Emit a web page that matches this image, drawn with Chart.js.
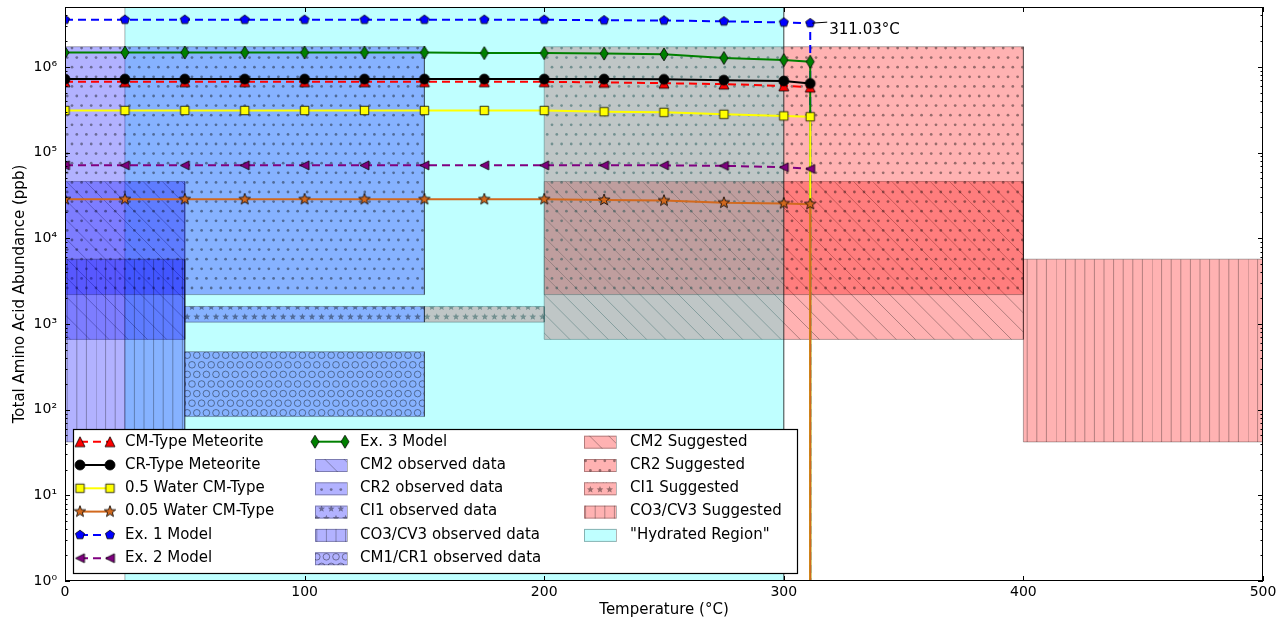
<!DOCTYPE html>
<html>
<head>
<meta charset="utf-8">
<script src="https://cdn.jsdelivr.net/npm/chart.js@4.4.1/dist/chart.umd.min.js"></script>
<style>
  html, body { margin: 0; padding: 0; background: #fff; }
  #chart { display: block; }
</style>
</head>
<body>
<canvas id="chart" width="1278" height="621"></canvas>
<script>
// temperatures (°C) at which the models were evaluated
const temps = [0, 25, 50, 75, 100, 125, 150, 175, 200, 225, 250, 275, 300, 311.03];

// total amino acid abundance (ppb)
const cmType   = [6.7e5, 6.7e5, 6.7e5, 6.7e5, 6.7e5, 6.7e5, 6.7e5, 6.7e5, 6.7e5, 6.6e5, 6.45e5, 6.3e5, 6.0e5, 5.8e5];
const crType   = [7.2e5, 7.2e5, 7.2e5, 7.2e5, 7.2e5, 7.2e5, 7.2e5, 7.2e5, 7.2e5, 7.2e5, 7.15e5, 7.0e5, 6.85e5, 6.4e5];
const water05  = [3.1e5, 3.1e5, 3.1e5, 3.1e5, 3.1e5, 3.1e5, 3.1e5, 3.1e5, 3.1e5, 3.0e5, 2.95e5, 2.8e5, 2.68e5, 2.62e5];
const water005 = [2.85e4, 2.85e4, 2.85e4, 2.85e4, 2.85e4, 2.85e4, 2.85e4, 2.85e4, 2.85e4, 2.8e4, 2.75e4, 2.6e4, 2.55e4, 2.5e4];
const ex1      = [3.55e6, 3.55e6, 3.55e6, 3.55e6, 3.55e6, 3.55e6, 3.55e6, 3.55e6, 3.55e6, 3.5e6, 3.48e6, 3.4e6, 3.3e6, 3.24e6];
const ex2      = [7.1e4, 7.1e4, 7.1e4, 7.1e4, 7.1e4, 7.1e4, 7.1e4, 7.1e4, 7.1e4, 7.1e4, 7.1e4, 7.0e4, 6.75e4, 6.45e4];
const ex3      = [1.47e6, 1.47e6, 1.47e6, 1.47e6, 1.47e6, 1.47e6, 1.47e6, 1.45e6, 1.45e6, 1.43e6, 1.4e6, 1.27e6, 1.2e6, 1.15e6];
// some runs collapse right after the last temperature
const dropFloor = 0.01;

// shaded ranges: name, temperature span, abundance span
const boxNames = ['CM2 observed data', 'CR2 observed data', 'CI1 observed data', 'CO3/CV3 observed data', 'CM1/CR1 observed data',
                  'CM2 Suggested', 'CR2 Suggested', 'CI1 Suggested', 'CO3/CV3 Suggested', '"Hydrated Region"'];
const boxTempLow   = [0, 0, 50, 0, 50, 200, 200, 150, 400, 25];
const boxTempHigh  = [50, 150, 150, 50, 150, 400, 400, 200, 500, 300];
const boxAbundLow  = [660, 2.2e3, 1.05e3, 42, 83, 660, 2.2e3, 1.05e3, 42, 1];
const boxAbundHigh = [4.6e4, 1.72e6, 1.6e3, 5.7e3, 475, 4.6e4, 1.72e6, 1.6e3, 5.7e3, 5e6];

const xTickValues = [0, 100, 200, 300, 400, 500];
const yTickValues = [1, 10, 100, 1000, 1e4, 1e5, 1e6];
const yTickLabels = ['10⁰', '10¹', '10²', '10³', '10⁴', '10⁵', '10⁶'];
const peakLabel = '311.03°C';

const FONT = "'DejaVu Sans', sans-serif";

// ---- markers ----
function makeMarker(shape, fill, w, h) {
  h = h || w;
  const c = document.createElement('canvas');
  c.width = Math.ceil(w) + 4; c.height = Math.ceil(h) + 4;
  const g = c.getContext('2d');
  const mx = c.width / 2, my = c.height / 2, rx = w / 2, ry = h / 2;
  g.beginPath();
  if (shape === 'circle') {
    g.arc(mx, my, rx, 0, Math.PI * 2);
  } else if (shape === 'square') {
    g.rect(mx - rx, my - ry, w, h);
  } else if (shape === 'triUp') {
    g.moveTo(mx, my - ry); g.lineTo(mx + rx, my + ry); g.lineTo(mx - rx, my + ry);
  } else if (shape === 'triLeft') {
    g.moveTo(mx - rx, my); g.lineTo(mx + rx, my - ry); g.lineTo(mx + rx, my + ry);
  } else if (shape === 'diamond') {
    g.moveTo(mx, my - ry); g.lineTo(mx + rx, my); g.lineTo(mx, my + ry); g.lineTo(mx - rx, my);
  } else if (shape === 'pentagon') {
    for (let i = 0; i < 5; i++) {
      const a = -Math.PI / 2 + i * 2 * Math.PI / 5;
      g.lineTo(mx + rx * Math.cos(a), my + rx * Math.sin(a));
    }
  } else if (shape === 'star') {
    for (let i = 0; i < 10; i++) {
      const a = -Math.PI / 2 + i * Math.PI / 5;
      const r = i % 2 ? rx * 0.42 : rx;
      g.lineTo(mx + r * Math.cos(a), my + r * Math.sin(a));
    }
  }
  g.closePath();
  g.fillStyle = fill; g.fill();
  g.lineWidth = 0.8; g.strokeStyle = '#000'; g.stroke();
  return c;
}

// ---- hatch patterns (tile of 96px = 10 hatch cells) ----
const HATCH = 'rgba(0,0,0,0.3)';
const HATCH_DARK = 'rgba(0,0,0,0.4)';
function makePattern(face, hatch) {
  if (!hatch) return face;
  const T = 96, s = 9.6;
  const c = document.createElement('canvas');
  c.width = c.height = T;
  const g = c.getContext('2d');
  g.fillStyle = face; g.fillRect(0, 0, T, T);
  g.strokeStyle = HATCH; g.fillStyle = HATCH_DARK; g.lineWidth = 1;
  const shapesAt = (fn) => {
    for (let r = -1; r <= 11; r++) {
      const off = (r & 1) ? s / 2 : 0;
      for (let k = -1; k <= 11; k++) fn(k * s + off, r * s);
    }
  };
  if (hatch === '\\') {
    g.beginPath();
    for (let c0 = -T; c0 <= T; c0 += 2 * s) { g.moveTo(c0, 0); g.lineTo(c0 + T, T); }
    g.stroke();
  } else if (hatch === '|') {
    g.beginPath();
    for (let k = 0; k < 10; k++) { g.moveTo(k * s, 0); g.lineTo(k * s, T); }
    g.stroke();
  } else if (hatch === '.') {
    shapesAt((x, y) => { g.beginPath(); g.arc(x, y, 1.4, 0, Math.PI * 2); g.fill(); });
  } else if (hatch === 'O') {
    g.strokeStyle = HATCH_DARK;
    shapesAt((x, y) => { g.beginPath(); g.arc(x, y, 3.3, 0, Math.PI * 2); g.stroke(); });
  } else if (hatch === '*') {
    shapesAt((x, y) => {
      g.beginPath();
      for (let i = 0; i < 10; i++) {
        const a = -Math.PI / 2 + i * Math.PI / 5;
        const r = i % 2 ? 1.6 : 3.6;
        g.lineTo(x + r * Math.cos(a), y + r * Math.sin(a));
      }
      g.closePath(); g.fill();
    });
  }
  return g.createPattern(c, 'repeat');
}

const BLUE = 'rgba(0,0,255,0.3)', RED = 'rgba(255,0,0,0.3)', CYAN = 'rgba(0,255,255,0.25)';
// style per box, and stacking (higher = further back)
const boxStyles = [
  { face: BLUE, hatch: '\\', order: 25 }, { face: BLUE, hatch: '.', order: 24 }, { face: BLUE, hatch: '*', order: 23 },
  { face: BLUE, hatch: '|', order: 22 }, { face: BLUE, hatch: 'O', order: 21 },
  { face: RED, hatch: '\\', order: 40 }, { face: RED, hatch: '.', order: 39 }, { face: RED, hatch: '*', order: 38 },
  { face: RED, hatch: '|', order: 37 }, { face: CYAN, hatch: '', order: 30 }
];

const seriesDefs = [
  { label: 'CM-Type Meteorite',  data: cmType,   color: '#ff0000', dash: [8, 5], marker: makeMarker('triUp', '#ff0000', 10), drop: false, order: 1 },
  { label: 'CR-Type Meteorite',  data: crType,   color: '#000000', dash: [],     marker: makeMarker('circle', '#000000', 10), drop: false, order: 0 },
  { label: '0.5 Water CM-Type',  data: water05,  color: '#ffff00', dash: [],     marker: makeMarker('square', '#ffff00', 8.5), drop: true, order: 4 },
  { label: '0.05 Water CM-Type', data: water005, color: '#d2691e', dash: [],     marker: makeMarker('star', '#d2691e', 12), drop: true, order: 3 },
  { label: 'Ex. 1 Model',        data: ex1,      color: '#0000ff', dash: [8, 5], marker: makeMarker('pentagon', '#0000ff', 9.5), drop: true, order: 6 },
  { label: 'Ex. 2 Model',        data: ex2,      color: '#800080', dash: [8, 5], marker: makeMarker('triLeft', '#800080', 9, 9), drop: false, order: 2 },
  { label: 'Ex. 3 Model',        data: ex3,      color: '#008000', dash: [],     marker: makeMarker('diamond', '#008000', 8, 13), drop: true, order: 5 }
];

const datasets = [];
seriesDefs.forEach(s => {
  const pts = temps.map((t, i) => ({ x: t, y: s.data[i] }));
  if (s.drop) pts.push({ x: temps[temps.length - 1], y: dropFloor });
  datasets.push({
    label: s.label, data: pts, borderColor: s.color, backgroundColor: s.color,
    borderWidth: 2, borderDash: s.dash, pointStyle: s.marker, pointRadius: 5,
    fill: false, tension: 0, order: s.order
  });
});

const boxFills = boxStyles.map(st => makePattern(st.face, st.hatch));
boxNames.forEach((name, i) => {
  const x0 = boxTempLow[i], x1 = boxTempHigh[i], lo = boxAbundLow[i], hi = boxAbundHigh[i];
  datasets.push({
    label: name,
    data: [{ x: x0, y: lo }, { x: x0, y: hi }, { x: x1, y: hi }, { x: x1, y: lo }, { x: x0, y: lo }],
    borderColor: HATCH, borderWidth: 1, backgroundColor: boxFills[i],
    fill: 'shape', pointRadius: 0, tension: 0, order: boxStyles[i].order
  });
});

function drawLegend(ctx, chart) {
  const L = 73, T = 429, W = 724, H = 144;
  ctx.save();
  ctx.fillStyle = '#fff';
  ctx.fillRect(L, T, W, H);
  ctx.strokeStyle = '#000'; ctx.lineWidth = 1.2;
  ctx.strokeRect(L + 0.5, T + 0.5, W, H);
  const items = [];
  seriesDefs.forEach(s => items.push({ type: 'line', s }));
  boxNames.forEach((n, i) => items.push({ type: 'box', name: n, fill: boxFills[i] }));
  const colHandle = [80, 315, 584], colText = [125, 360, 630];
  const perCol = [6, 6, 5];
  let idx = 0;
  ctx.font = '15px ' + FONT; ctx.textBaseline = 'middle'; ctx.fillStyle = '#000';
  for (let c = 0; c < 3; c++) {
    for (let r = 0; r < perCol[c]; r++) {
      const it = items[idx++];
      const cy = T + 12.7 + r * 23.3;
      const hx = colHandle[c];
      if (it.type === 'line') {
        ctx.save();
        ctx.strokeStyle = it.s.color; ctx.lineWidth = 2; ctx.setLineDash(it.s.dash);
        ctx.beginPath(); ctx.moveTo(hx, cy); ctx.lineTo(hx + 30, cy); ctx.stroke();
        const m = it.s.marker;
        ctx.drawImage(m, hx - m.width / 2, cy - m.height / 2);
        ctx.drawImage(m, hx + 30 - m.width / 2, cy - m.height / 2);
        ctx.restore();
        ctx.fillStyle = '#000';
        ctx.fillText(it.s.label, colText[c], cy);
      } else {
        ctx.save();
        ctx.fillStyle = it.fill;
        ctx.fillRect(hx, cy - 6, 32, 13);
        ctx.strokeStyle = HATCH; ctx.lineWidth = 1;
        ctx.strokeRect(hx + 0.5, cy - 5.5, 32, 12);
        ctx.restore();
        ctx.fillStyle = '#000';
        ctx.fillText(it.name, colText[c], cy);
      }
    }
  }
  ctx.restore();
}

const framePlugin = {
  id: 'frame',
  afterDatasetsDraw(chart) {
    const { ctx, chartArea: a, scales: { x, y } } = chart;
    ctx.save();
    ctx.strokeStyle = '#000'; ctx.lineWidth = 1;
    ctx.beginPath();
    xTickValues.forEach(v => {
      const px = Math.round(x.getPixelForValue(v)) + 0.5;
      ctx.moveTo(px, a.bottom); ctx.lineTo(px, a.bottom - 5);
      ctx.moveTo(px, a.top); ctx.lineTo(px, a.top + 5);
    });
    for (let e = 0; e <= 6; e++) {
      for (let m = 1; m <= 9; m++) {
        const v = m * Math.pow(10, e);
        if (v > y.max) break;
        const py = Math.round(y.getPixelForValue(v)) + 0.5;
        const len = m === 1 ? 5 : 2.5;
        ctx.moveTo(a.left, py); ctx.lineTo(a.left + len, py);
        ctx.moveTo(a.right, py); ctx.lineTo(a.right - len, py);
      }
    }
    ctx.stroke();
    ctx.strokeRect(a.left + 0.5, a.top + 0.5, a.right - a.left - 1, a.bottom - a.top - 1);

    // annotation for the last Ex. 1 point
    const px = x.getPixelForValue(temps[temps.length - 1]);
    const py = y.getPixelForValue(ex1[ex1.length - 1]);
    ctx.beginPath();
    ctx.moveTo(px + 2, py); ctx.lineTo(px + 17, py - 1);
    ctx.stroke();
    ctx.font = '15px ' + FONT; ctx.fillStyle = '#000'; ctx.textBaseline = 'middle';
    ctx.fillText(peakLabel, px + 19, py + 7);
    ctx.restore();
  },
  afterDraw(chart) {
    drawLegend(chart.ctx, chart);
  }
};

new Chart(document.getElementById('chart'), {
  type: 'line',
  data: { datasets },
  options: {
    responsive: false,
    animation: false,
    devicePixelRatio: 1,
    layout: { padding: { top: 6, right: 15, left: 0, bottom: 0 } },
    plugins: { legend: { display: false }, tooltip: { enabled: false } },
    scales: {
      x: {
        type: 'linear', min: 0, max: 500,
        afterBuildTicks: s => { s.ticks = xTickValues.map(v => ({ value: v })); },
        ticks: { font: { family: FONT, size: 14 }, color: '#000', padding: 3, maxRotation: 0 },
        grid: { display: false, drawTicks: false },
        border: { display: false },
        title: { display: true, text: 'Temperature (°C)', font: { family: FONT, size: 15 }, color: '#000', padding: { top: 0, bottom: 2 } },
        afterFit: s => { s.height = 40; s.paddingLeft = 0; s.paddingRight = 0; }
      },
      y: {
        type: 'logarithmic', min: 1, max: 5e6,
        afterBuildTicks: s => { s.ticks = yTickValues.map(v => ({ value: v })); },
        ticks: { font: { family: FONT, size: 14 }, color: '#000', padding: 8,
                 callback: (v) => yTickLabels[yTickValues.indexOf(v)] },
        grid: { display: false, drawTicks: false },
        border: { display: false },
        title: { display: true, text: 'Total Amino Acid Abundance (ppb)', font: { family: FONT, size: 15 }, color: '#000', padding: { top: 11, bottom: 0 } },
        afterFit: s => { s.width = 65; s.paddingTop = 0; s.paddingBottom = 0; }
      }
    }
  },
  plugins: [framePlugin]
});
</script>
</body>
</html>
